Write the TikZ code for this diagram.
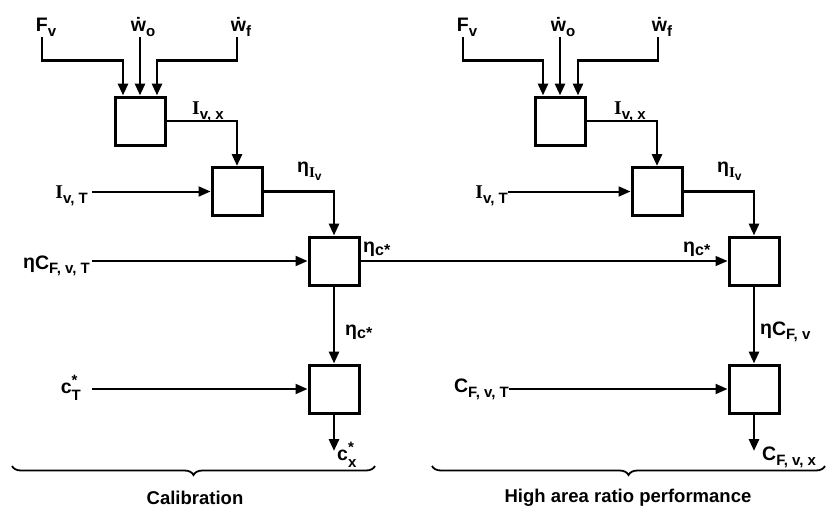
\documentclass[tikz,border=0pt]{standalone}
\usepackage{fontspec}
\setmainfont{Liberation Sans}
\newfontfamily\serifI{Liberation Serif}
\usetikzlibrary{arrows.meta,decorations.pathreplacing}
\newcommand{\sbs}[1]{\raisebox{-0.5ex}{\fontsize{15}{15}\selectfont #1}}
\newcommand{\sbss}[1]{\raisebox{-0.45ex}{\fontsize{12}{12}\selectfont #1}}
\newcommand{\II}{{\serifI I}}
\newcommand{\wdot}{\.w}
\newcommand{\cstar}[1]{c\rlap{\raisebox{0.7ex}{\fontsize{15}{15}\selectfont *}}\raisebox{-0.7ex}{\fontsize{15}{15}\selectfont #1}}
\newcommand{\etacs}{η\raisebox{-0.35ex}{\fontsize{16}{16}\selectfont c*}}
\begin{document}
\begin{tikzpicture}[x=1pt,y=-1pt,
  blk/.style={draw, line width=3pt, minimum width=50pt, minimum height=48pt, inner sep=0pt},
  lbl/.style={inner sep=0pt, font=\fontsize{19.5}{19.5}\selectfont\bfseries},
  feed/.style={line width=2.8pt, -{Triangle[length=12pt,width=10pt]}},
  inp/.style={line width=2pt, -{Triangle[length=12pt,width=10pt]}},
  thinln/.style={line width=1.3pt, -{Triangle[length=12pt,width=10pt]}},
  brc/.style={line width=1.8pt, decorate, decoration={brace,mirror,amplitude=9pt}},
  captext/.style={inner sep=0pt, font=\fontsize{18.5}{18.5}\selectfont\bfseries},
]
\path[use as bounding box] (0,0) rectangle (827,514);

% ---------------- Left: Calibration ----------------
\node[blk] (A) at (140,121) {};
\node[blk] (B) at (237,191.5) {};
\node[blk] (C) at (334,261) {};
\node[blk] (D) at (334,389) {};

\node[lbl, anchor=south] (fv) at (46,37) {F\sbs{v}};
\node[lbl, anchor=south] (wo) at (143,37) {\wdot\sbs{o}};
\node[lbl, anchor=south] (wf) at (241,37) {\wdot\sbs{f}};

\draw[feed] (fv.south -| 42,0) |- ([xshift=-17pt,yshift=35pt]A.north) -- ([xshift=-17pt]A.north);
\draw[feed] (wo.south -| A.north) -- (A.north);
\draw[feed] (wf.south -| 237,0) |- ([xshift=17pt,yshift=35pt]A.north) -- ([xshift=17pt]A.north);

\node[lbl, anchor=base west] (ivx) at (192,114) {\II\sbs{v, x}};
\draw[feed] (A.east) -| (B.north);

\node[lbl, anchor=base east] (ivt) at (88,198) {\II\sbs{v, T}};
\draw[inp] ([xshift=4pt]ivt.east |- B.west) -- (B.west);

\node[lbl, anchor=base west] (etaiv) at (297,172) {η\sbs{\II\sbss{v}}};
\draw[feed] (B.east) -| (C.north);

\node[lbl, anchor=base east] (etacft) at (90,268) {η\raisebox{-0.1ex}{C}\sbs{F, v, T}};
\draw[inp] ([xshift=2pt]etacft.east |- C.west) -- (C.west);

\node[lbl, anchor=base west] (etacs) at (363,252) {\etacs};
\node[lbl, anchor=base west] (etacs2) at (345,335) {\etacs};
\draw[feed] (C.south) -- (D.north);

\node[lbl, anchor=base east] (ct) at (81,393) {\cstar{T}};
\draw[inp] ([xshift=11pt]ct.east |- D.west) -- (D.west);

\coordinate (dout) at (334,451);
\draw[feed] (D.south) -- (dout);
\node[lbl, anchor=base west] (cx) at (337,460) {\cstar{x}};

\draw[brc] (12,466) -- (375,466);
\node[captext] (cal) at (195,498) {Calibration};

% ---------------- Right: High area ratio performance ----------------
\node[blk] (A2) at (560,121) {};
\node[blk] (B2) at (657,191.5) {};
\node[blk] (C2) at (754,261) {};
\node[blk] (D2) at (754,389) {};

\node[lbl, anchor=south] (fv2) at (467,37) {F\sbs{v}};
\node[lbl, anchor=south] (wo2) at (563,37) {\wdot\sbs{o}};
\node[lbl, anchor=south] (wf2) at (662,37) {\wdot\sbs{f}};

\draw[feed] (fv2.south -| 463,0) |- ([xshift=-17pt,yshift=35pt]A2.north) -- ([xshift=-17pt]A2.north);
\draw[feed] (wo2.south -| A2.north) -- (A2.north);
\draw[feed] (wf2.south -| 658,0) |- ([xshift=18pt,yshift=35pt]A2.north) -- ([xshift=18pt]A2.north);

\node[lbl, anchor=base west] (ivx2) at (614,114) {\II\sbs{v, x}};
\draw[feed] (A2.east) -| (B2.north);

\node[lbl, anchor=base east] (ivt2) at (508,198) {\II\sbs{v, T}};
\draw[inp] (ivt2.east |- B2.west) -- (B2.west);

\node[lbl, anchor=base west] (etaiv2) at (717,172) {η\sbs{\II\sbss{v}}};
\draw[feed] (B2.east) -| (C2.north);

\draw[thinln] (C.east) -- (C2.west);
\node[lbl, anchor=base west] (etacs3) at (683,252) {\etacs};

\node[lbl, anchor=base west] (etacf2) at (760,334) {η\raisebox{-0.1ex}{C}\sbs{F, v}};
\draw[feed] (C2.south) -- (D2.north);

\node[lbl, anchor=base east] (cft2) at (509,392) {C\sbs{F, v, T}};
\draw[inp] (cft2.east |- D2.west) -- (D2.west);

\coordinate (dout2) at (754,451);
\draw[feed] (D2.south) -- (dout2);
\node[lbl, anchor=base west] (cfx2) at (762,460) {C\sbs{F, v, x}};

\draw[brc] (432,466) -- (825,466);
\node[captext] (harp) at (628,498) {High area ratio performance};
\end{tikzpicture}
\end{document}
